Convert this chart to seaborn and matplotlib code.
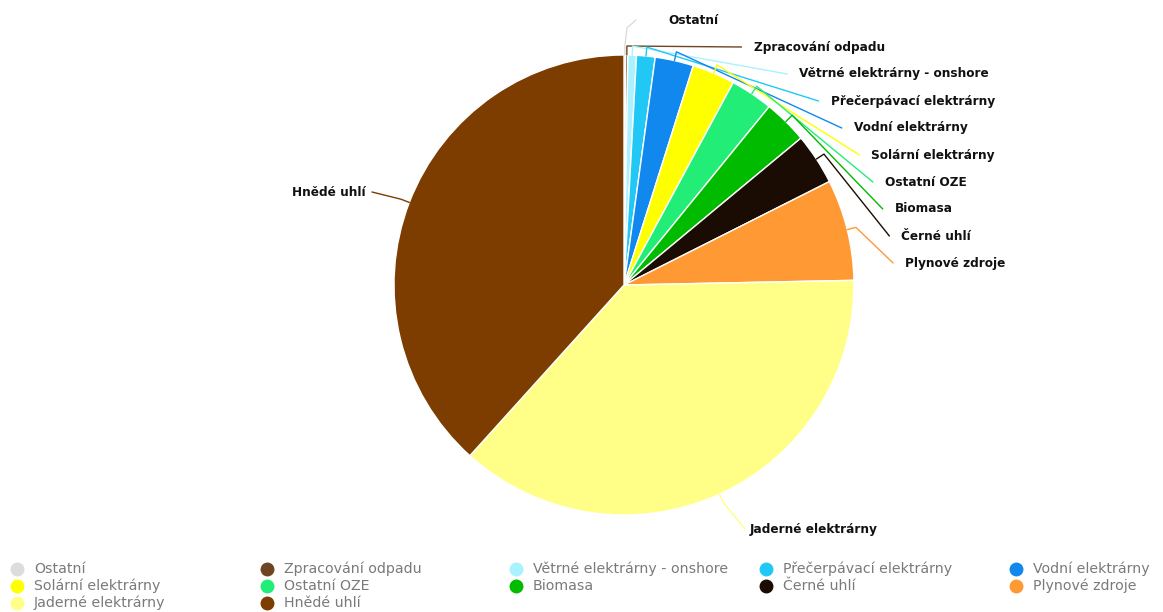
import numpy as np
import matplotlib
matplotlib.use("Agg")
import matplotlib.pyplot as plt
from matplotlib.lines import Line2D
import seaborn as sns

# ---------------- data ----------------
categories = ["Ostatní", "Zpracování odpadu", "Větrné elektrárny - onshore",
              "Přečerpávací elektrárny", "Vodní elektrárny", "Solární elektrárny",
              "Ostatní OZE", "Biomasa", "Černé uhlí", "Plynové zdroje",
              "Jaderné elektrárny", "Hnědé uhlí"]
values = [0.12, 0.15, 0.6, 1.3, 2.7, 3.0, 3.0, 3.1, 3.6, 7.1, 37.0, 38.3]
colors = ["#dcdcdc", "#6e4523", "#aaf2ff", "#22c8f5", "#1188ee", "#ffff00",
          "#22ee77", "#00bb00", "#1a0c02", "#ff9933", "#ffff88", "#7d3c00"]

sns.set_theme(style="white")
plt.rcParams['font.family'] = ['DejaVu Sans']

W, H = 1163, 612
fig = plt.figure(figsize=(W / 100, H / 100), dpi=100)
fig.patch.set_facecolor("white")

cx, cy, R = 624, 285, 230  # pixel layout of pie
ax = fig.add_axes([(cx - R) / W, (H - cy - R) / H, 2 * R / W, 2 * R / H])

wedges, _ = ax.pie(values, colors=colors, startangle=90, counterclock=False,
                   radius=1, wedgeprops=dict(edgecolor="white", linewidth=1))
ax.set_xlim(-1, 1)
ax.set_ylim(-1, 1)
ax.set_aspect("auto")
ax.axis("off")

def px2fig(x, y):
    return x / W, (H - y) / H

# label layout (pixels)
right_idx = list(range(10))
label_y0, label_dy, Rl = 20, 27, 262
for i, w in enumerate(wedges):
    mid = np.deg2rad((w.theta1 + w.theta2) / 2)
    ex, ey = cx + R * np.cos(mid), cy - R * np.sin(mid)
    bx, by = cx + (R + 9) * np.cos(mid), cy - (R + 9) * np.sin(mid)
    if i in right_idx:
        ly = label_y0 + label_dy * i
        dy = cy - ly
        tx = cx + max(np.sqrt(max(Rl ** 2 - dy ** 2, 0)), 24) + 20
        endx = tx - 12
        ha = "left"
        if i == 0:
            xs, ys = [ex, bx, bx + 2, endx - 20], [ey, by, ly + 8, ly]
        else:
            xs, ys = [ex, bx, endx], [ey, by, ly]
    elif categories[i] == "Jaderné elektrárny":
        ly, tx, endx, ha = 529, 750, 745, "left"
        xs, ys = [ex, bx, endx], [ey, by, ly]
    else:
        ly, tx, endx, ha = 192, 366, 372, "right"
        xs, ys = [ex, bx, endx], [ey, by, ly]
    fx, fy = zip(*[px2fig(a, b) for a, b in zip(xs, ys)])
    fig.add_artist(Line2D(fx, fy, color=colors[i], lw=1, transform=fig.transFigure))
    fig.text(*px2fig(tx, ly), categories[i], ha=ha, va="center",
             fontsize=8.7, fontweight="bold", color="#111111")

# legend (row-major, 5 columns)
col_x = [17, 267, 516, 766, 1016]
row_y = [569, 586, 603]
for k, (name, c) in enumerate(zip(categories, colors)):
    r, cc = divmod(k, 5)
    mx, my = px2fig(col_x[cc], row_y[r])
    fig.add_artist(Line2D([mx], [my], marker="o", markersize=9, color=c,
                          linestyle="none", transform=fig.transFigure))
    fig.text(*px2fig(col_x[cc] + 17, row_y[r]), name, ha="left", va="center",
             fontsize=10.2, color="#7a7a7a")

fig.savefig("out.png", dpi=100, facecolor="white")
